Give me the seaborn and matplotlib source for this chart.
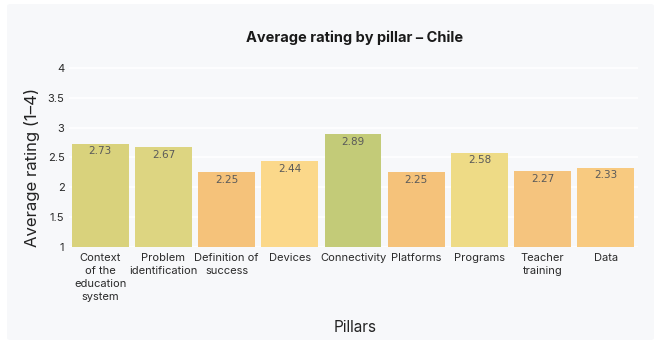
import matplotlib
matplotlib.use("Agg")
import matplotlib.pyplot as plt
from matplotlib.patches import FancyBboxPatch
import seaborn as sns
import pandas as pd

pillars = ["Context\nof the\neducation\nsystem", "Problem\nidentification",
           "Definition of\nsuccess", "Devices", "Connectivity", "Platforms",
           "Programs", "Teacher\ntraining", "Data"]
ratings = [2.73, 2.67, 2.25, 2.44, 2.89, 2.25, 2.58, 2.27, 2.33]
bar_colors = ["#d9d27c", "#ddd581", "#f5c27a", "#fbd88a", "#c3cb78",
              "#f5c27a", "#eedb86", "#f5c47e", "#f8ca80"]
y_ticks = [1, 1.5, 2, 2.5, 3, 3.5, 4]

sns.set_theme(style="white")
plt.rcParams["font.family"] = ["Inter", "DejaVu Sans"]

panel = "#f7f8fa"
fig = plt.figure(figsize=(6.61, 3.42), dpi=100, facecolor="white")
fig.patches.append(FancyBboxPatch((7 / 661, 1 - 340 / 342), 647 / 661, 336 / 342,
                                  boxstyle="round,pad=0,rounding_size=0.006",
                                  transform=fig.transFigure, facecolor=panel,
                                  edgecolor="none", zorder=-10))

ax = fig.add_axes([68.6 / 661, 1 - 247 / 342, (637.5 - 68.6) / 661, (247 - 66) / 342])
ax.set_zorder(1)
ax.patch.set_alpha(0)

df = pd.DataFrame({"pillar": pillars, "rating": ratings})
sns.barplot(data=df, x="pillar", y="rating", hue="pillar",
            palette=dict(zip(pillars, bar_colors)), width=0.9, saturation=1,
            linewidth=0, legend=False, ax=ax, zorder=2)

ax.set_ylim(1, 4.03)
ax.set_xlim(-0.5, len(pillars) - 0.5)
ax.set_yticks(y_ticks)
ax.set_yticklabels([f"{t:g}" for t in y_ticks])
ax.yaxis.grid(True, color="white", linewidth=1.2, zorder=0)
ax.set_axisbelow(True)
for s in ax.spines.values():
    s.set_visible(False)
ax.tick_params(axis="both", length=0, labelsize=8, colors="#2a2a2a")
ax.tick_params(axis="y", pad=3)
ax.tick_params(axis="x", pad=4)
for lab in ax.get_xticklabels():
    lab.set_linespacing(1.4)

for i, v in enumerate(ratings):
    ax.text(i, v - 0.045, f"{v:.2f}", ha="center", va="top", fontsize=7.5,
            color="#5a5a5a", family="DejaVu Sans", zorder=3)

ax.set_xlabel("")
ax.set_ylabel("")
fig.text(32 / 661, 1 - 167 / 342, "Average rating (1\u20134)", rotation=90,
         ha="center", va="center", fontsize=12, color="#222222")
fig.text(355 / 661, 1 - 327 / 342, "Pillars", ha="center", va="center",
         fontsize=11, color="#222222")
fig.text(355 / 661, 1 - 38 / 342, "Average rating by pillar \u2013 Chile",
         ha="center", va="center", fontsize=10.5, fontweight="bold",
         color="#1a1a1a")

fig.savefig("out.png", dpi=100, facecolor="white")
